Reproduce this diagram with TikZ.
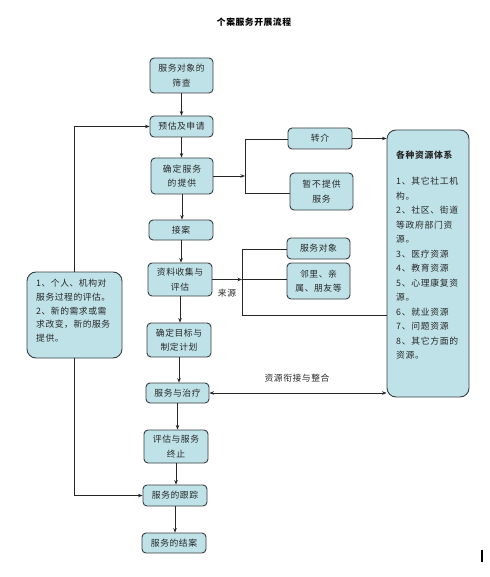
\documentclass[tikz,border=0pt]{standalone}
\usepackage{fontspec}
\setmainfont{Noto Sans CJK SC}[LetterSpace=6]
\newfontfamily\widecjk{Noto Sans CJK SC}[LetterSpace=12]
\newfontfamily\midcjk{Noto Sans CJK SC}[LetterSpace=8]
\usetikzlibrary{arrows.meta}
\definecolor{boxfill}{RGB}{190,226,232}
\definecolor{boxdraw}{RGB}{55,62,64}
\definecolor{txt}{RGB}{40,40,40}
\tikzset{
  box/.style={draw=boxdraw, fill=boxfill, line width=0.9pt, rounded corners=4pt,
    inner sep=0pt, align=center, text=txt, font=\fontsize{8.8}{14.5}\selectfont},
  conn/.style={draw=black!85, line width=0.8pt},
  arr/.style={conn, -{Stealth[length=4.5pt,width=3.5pt]}},
  lbl/.style={inner sep=0pt, text=txt, font=\fontsize{8.8}{14}\selectfont}
}
\begin{document}
\begin{tikzpicture}[x=1pt,y=-1pt]
\useasboundingbox (0,0) rectangle (489,577);
\fill[white] (0,0) rectangle (489,577);
% title
\node[lbl, font=\fontsize{8.8}{10}\selectfont\bfseries, text=black] (title) at (254,22) {个案服务开展流程};
% main column
\node[box, minimum width=63pt, minimum height=35pt] (b1) at (181.5,75.5) {服务对象的\\筛查};
\node[box, minimum width=63pt, minimum height=21pt] (b2) at (181.5,126.5) {预估及申请};
\node[box, minimum width=62pt, minimum height=36pt] (b3) at (182,176) {{\widecjk 确定服务}\\{\widecjk 的提供}};
\node[box, minimum width=64pt, minimum height=20pt] (b4) at (181,230) {接案};
\node[box, minimum width=64pt, minimum height=33pt] (b5) at (180,279.5) {资料收集与\\评估};
\node[box, minimum width=64pt, minimum height=34pt] (b6) at (179,340) {确定目标与\\制定计划};
\node[box, minimum width=63pt, minimum height=20pt] (b7) at (177.5,393) {服务与治疗};
\node[box, minimum width=64pt, minimum height=33pt] (b8) at (176,446.5) {评估与服务\\终止};
\node[box, minimum width=64pt, minimum height=21pt] (b9) at (175,495.5) {服务的跟踪};
\node[box, minimum width=64pt, minimum height=20pt] (b10) at (174,543) {服务的结案};
% right side small boxes
\node[box, minimum width=64pt, minimum height=21pt] (r1) at (320,138.5) {转介};
\node[box, minimum width=63pt, minimum height=37pt] (r2) at (321.5,191.5) {{\widecjk 暂不提供}\\服务};
\node[box, minimum width=63pt, minimum height=21pt] (s1) at (318.5,248.5) {服务对象};
\node[box, minimum width=63pt, minimum height=36pt] (s2) at (318.5,281) {邻里、亲\\属、朋友等};
% big resource box
\node[box, rounded corners=9pt, minimum width=82pt, minimum height=267pt] (R) at (428,263.5) {};
\node[lbl, anchor=north west, align=left, font=\midcjk\fontsize{8.8}{14.5}\selectfont] (Rtext) at (396,150.5)
  {{\bfseries 各种资源体系}\\[12pt]1、其它社工机\\构。\\2、社区、街道\\等政府部门资\\源。\\3、医疗资源\\4、教育资源\\5、心理康复资\\源。\\6、就业资源\\7、问题资源\\8、其它方面的\\资源。};
% left feedback box
\node[box, rounded corners=9pt, minimum width=95pt, minimum height=86pt] (L) at (74.5,315) {};
\node[lbl, anchor=north west, align=left, font=\fontsize{8.8}{13.7}\selectfont] (Ltext) at (36,279)
  {1、个人、机构对\\服务过程的评估。\\2、新的需求或需\\求改变，新的服务\\提供。};
% main flow arrows
\draw[arr] (b1.south) -- (b1.south |- b2.north);
\draw[arr] (b2.south) -- (b2.south |- b3.north);
\draw[arr] (b3.south) -- (b3.south |- b4.north);
\draw[arr] (b4.south) -- (b4.south |- b5.north);
\draw[arr] (b5.south) -- (b5.south |- b6.north);
\draw[arr] (b6.south) -- (b6.south |- b7.north);
\draw[arr] (b7.south) -- (b7.south |- b8.north);
\draw[arr] (b8.south) -- (b8.south |- b9.north);
\draw[arr] (b9.south) -- (b9.south |- b10.north);
% bracket 1
\coordinate (j1) at (245,176);
\coordinate (j1t) at (245,139);
\coordinate (j1b) at (245,193);
\draw[arr] (b3.east |- j1) -- (j1);
\draw[conn] (r1.west |- j1t) -- (j1t) -- (j1b) -- (r2.west |- j1b);
\draw[arr] (r1.east) -- (R.west |- r1.east);
% bracket 2
\coordinate (k1) at (242,279.5);
\coordinate (kt) at (242,249);
\coordinate (kb) at (242,315);
\draw[arr] (b5.east) -- (k1);
\draw[conn] (s1.west |- kt) -- (kt) -- (kb) -- (R.west |- kb);
\draw[conn] (k1) -- (s2.west |- k1);
\node[lbl] (src) at (227,293) {来源};
% resource link
\draw[conn, {Stealth[length=4.5pt,width=3.5pt]}-{Stealth[length=4.5pt,width=3.5pt]}] (b7.east) -- (R.west |- b7.east);
\node[lbl] (link) at (297,378) {资源衔接与整合};
% feedback loops
\draw[arr] (L.north) |- (b2.west);
\draw[arr] (L.south) |- (b9.west);
% cursor mark
\coordinate (c1) at (482,550);
\coordinate (c2) at (482,562);
\draw[line width=1.3pt] (c1) -- (c2);
\end{tikzpicture}
\end{document}
